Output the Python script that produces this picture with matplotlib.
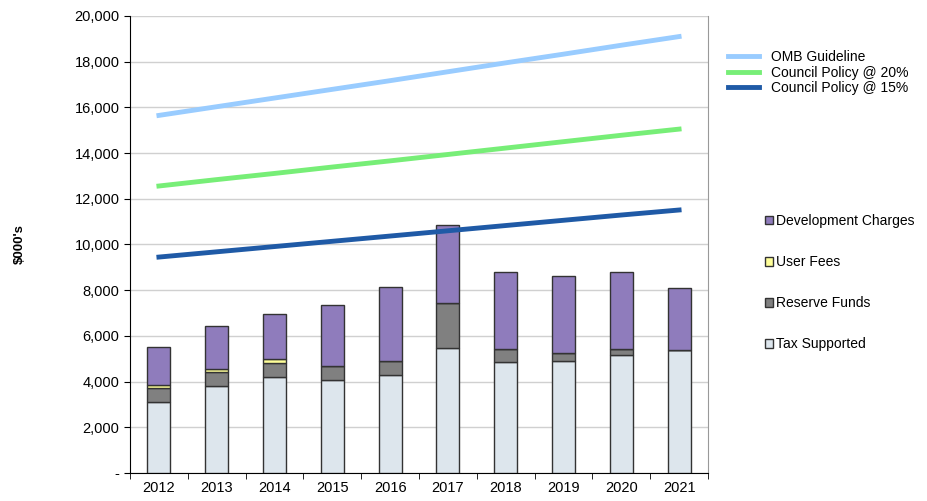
import matplotlib.pyplot as plt
import numpy as np
from matplotlib.patches import Patch
from matplotlib.lines import Line2D

plt.rcParams['font.family'] = ['Liberation Sans', 'DejaVu Sans']

anios = ['2012', '2013', '2014', '2015', '2016', '2017', '2018', '2019', '2020', '2021']

# barras apiladas ($000's)
tax = [3100, 3800, 4200, 4060, 4290, 5460, 4850, 4920, 5150, 5370]
reserve = [600, 600, 600, 640, 600, 1990, 560, 320, 290, 0]
user_fees = [170, 170, 175, 0, 0, 0, 0, 0, 0, 0]
dev = [1650, 1860, 1985, 2650, 3250, 3390, 3390, 3370, 3360, 2730]

# lineas de referencia
omb = [15650, 16030, 16410, 16790, 17170, 17560, 17950, 18330, 18720, 19100]
council20 = [12560, 12840, 13110, 13390, 13660, 13940, 14220, 14500, 14780, 15050]
council15 = [9450, 9680, 9910, 10140, 10370, 10600, 10830, 11060, 11290, 11510]

c_tax = '#DDE6ED'
c_res = '#808080'
c_user = '#FFFF99'
c_dev = '#8F7CBC'
c_omb = '#99CCFF'
c_20 = '#77EE77'
c_15 = '#1F5AA6'

fig = plt.figure(figsize=(9.27, 5.01), dpi=100)
ax = fig.add_axes([130/927, 28/501, 578/927, 457/501])

x = np.arange(len(anios))
w = 0.4
ec = '#333333'
b1 = np.array(tax)
b2 = b1 + np.array(reserve)
b3 = b2 + np.array(user_fees)
ax.bar(x, tax, w, color=c_tax, edgecolor=ec, linewidth=1, zorder=3)
ax.bar(x, reserve, w, bottom=b1, color=c_res, edgecolor=ec, linewidth=1, zorder=3)
ax.bar(x, user_fees, w, bottom=b2, color=c_user, edgecolor=ec, linewidth=1, zorder=3)
ax.bar(x, dev, w, bottom=b3, color=c_dev, edgecolor=ec, linewidth=1, zorder=3)

ax.plot(x, omb, color=c_omb, lw=3.5, zorder=4)
ax.plot(x, council20, color=c_20, lw=3.5, zorder=4)
ax.plot(x, council15, color=c_15, lw=3.5, zorder=4)

ax.set_xlim(-0.5, len(anios) - 0.5)
ax.set_ylim(0, 20000)
ax.set_yticks(np.arange(0, 20001, 2000))
ax.set_yticklabels(['-'] + [f'{v:,}' for v in range(2000, 20001, 2000)], fontsize=10.5)
ax.set_xticks(x)
ax.set_xticklabels(anios, fontsize=10.5)
ax.tick_params(axis='x', length=0, pad=6)
ax.set_xticks(np.arange(-0.5, len(anios), 1), minor=True)
ax.tick_params(axis='x', which='minor', length=4, direction='out')
ax.tick_params(axis='y', length=4, direction='out')
ax.grid(axis='y', color='#D0D0D0', lw=1, zorder=0)
ax.spines['top'].set_visible(False)
ax.spines['right'].set_color('#999999')
ax.set_ylabel("$000's", fontsize=9.5, fontweight='bold')
ax.yaxis.set_label_coords(-0.18, 0.5)

h_lineas = [Line2D([], [], color=c_omb, lw=3.5),
            Line2D([], [], color=c_20, lw=3.5),
            Line2D([], [], color=c_15, lw=3.5)]
fig.legend(h_lineas, ['OMB Guideline', 'Council Policy @ 20%', 'Council Policy @ 15%'],
           loc='upper left', bbox_to_anchor=(721/927, 1 - 43/501), frameon=False,
           fontsize=10, handlelength=2.2, handletextpad=0.9, labelspacing=0.12, borderpad=0)

h_barras = [Patch(facecolor=c_dev, edgecolor=ec), Patch(facecolor=c_user, edgecolor=ec),
            Patch(facecolor=c_res, edgecolor=ec), Patch(facecolor=c_tax, edgecolor=ec)]
fig.legend(h_barras, ['Development Charges', 'User Fees', 'Reserve Funds', 'Tax Supported'],
           loc='upper left', bbox_to_anchor=(758/927, 1 - 207/501), frameon=False,
           fontsize=10, handlelength=0.6, handleheight=0.6, handletextpad=0.2,
           labelspacing=1.95, borderpad=0)

fig.savefig('out.png', dpi=100)
